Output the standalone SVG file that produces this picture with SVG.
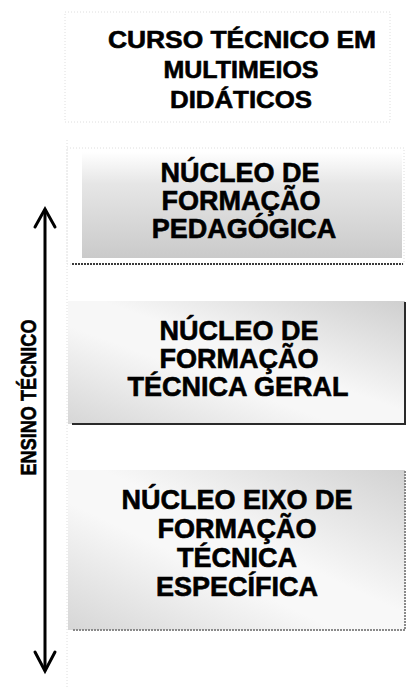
<svg xmlns="http://www.w3.org/2000/svg" width="414" height="689" viewBox="0 0 414 689">
  <style>
    .t { font-family: "Liberation Sans", Arial, sans-serif; font-weight: bold; fill: #000; stroke: #000; stroke-width: 0.6; text-anchor: middle; }
    .title { font-size: 24px; }
    .box { font-size: 27px; }
    .faint { fill: none; stroke: #dedede; stroke-width: 1; stroke-dasharray: 1 2; }
    .arrow { fill: none; stroke: #000; stroke-width: 3; stroke-linecap: round; stroke-linejoin: miter; }
  </style>
  <defs>
    <linearGradient id="g1" x1="0" y1="0" x2="0" y2="1">
      <stop offset="0" stop-color="#ffffff"/>
      <stop offset="0.3" stop-color="#e6e6e6"/>
      <stop offset="1" stop-color="#cacaca"/>
    </linearGradient>
    <linearGradient id="g2" x1="1" y1="0" x2="0" y2="1">
      <stop offset="0" stop-color="#cfcfcf"/>
      <stop offset="0.45" stop-color="#f7f7f7"/>
      <stop offset="0.6" stop-color="#f7f7f7"/>
      <stop offset="1" stop-color="#d6d6d6"/>
    </linearGradient>
    <linearGradient id="g3" x1="1" y1="0" x2="0" y2="1">
      <stop offset="0" stop-color="#d2d2d2"/>
      <stop offset="0.45" stop-color="#f8f8f8"/>
      <stop offset="0.6" stop-color="#f8f8f8"/>
      <stop offset="1" stop-color="#d6d6d6"/>
    </linearGradient>
  </defs>

  <rect width="414" height="689" fill="#ffffff"/>

  <line class="faint" x1="67" y1="140" x2="67" y2="689"/>

  <g id="title">
    <rect class="faint" x="65" y="12" width="325" height="110"/>
    <text class="t title" x="242" y="48" textLength="268" lengthAdjust="spacingAndGlyphs">CURSO TÉCNICO EM</text>
    <text class="t title" x="241" y="78" textLength="155" lengthAdjust="spacingAndGlyphs">MULTIMEIOS</text>
    <text class="t title" x="241" y="108" textLength="142" lengthAdjust="spacingAndGlyphs">DIDÁTICOS</text>
  </g>

  <g id="node-pedagogica">
    <rect x="82" y="152" width="320" height="106" fill="url(#g1)"/>
    <rect class="faint" x="67" y="148" width="337" height="116"/>
    <line x1="72" y1="264" x2="403" y2="264" stroke="#3a3a3a" stroke-width="2" stroke-dasharray="2 1"/>
    <text class="t box" x="240" y="182">NÚCLEO DE</text>
    <text class="t box" x="241" y="210">FORMAÇÃO</text>
    <text class="t box" x="244" y="238">PEDAGÓGICA</text>
  </g>

  <g id="node-geral">
    <rect x="68" y="301" width="337" height="123" fill="url(#g2)"/>
    <polyline points="405,302 405,424 72,424" fill="none" stroke="#2a2a2a" stroke-width="2"/>
    <text class="t box" x="239" y="340">NÚCLEO DE</text>
    <text class="t box" x="239" y="368">FORMAÇÃO</text>
    <text class="t box" x="238" y="396">TÉCNICA GERAL</text>
  </g>

  <g id="node-especifica">
    <rect x="68" y="470" width="337" height="160" fill="url(#g3)"/>
    <polyline points="405,471 405,630 72,630" fill="none" stroke="#8a8a8a" stroke-width="2" stroke-dasharray="2 1"/>
    <text class="t box" x="237" y="509">NÚCLEO EIXO DE</text>
    <text class="t box" x="237" y="538">FORMAÇÃO</text>
    <text class="t box" x="237" y="567">TÉCNICA</text>
    <text class="t box" x="237" y="596">ESPECÍFICA</text>
  </g>

  <g id="connectors">
    <line class="arrow" x1="45" y1="210" x2="45" y2="670"/>
    <polyline class="arrow" points="35,227 45,209 55,227"/>
    <polyline class="arrow" points="35,652 45,671 55,652"/>
  </g>

  <g id="label-ensino">
    <text class="t" font-size="22" transform="translate(36,397.5) rotate(-90)" x="0" y="0" textLength="156" lengthAdjust="spacingAndGlyphs">ENSINO TÉCNICO</text>
  </g>
</svg>
